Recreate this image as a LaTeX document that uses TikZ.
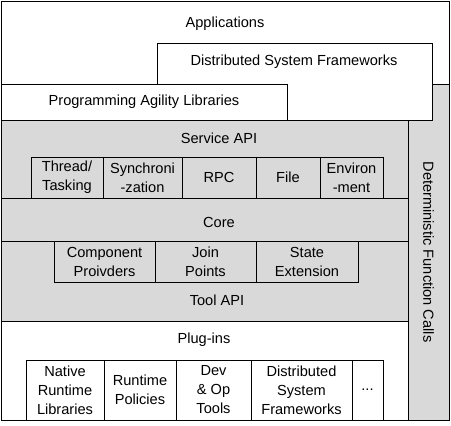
\documentclass[tikz,border=0pt]{standalone}
\usepackage{fontspec}
\setmainfont{Liberation Sans}
\definecolor{apigray}{HTML}{D9D9D9}

\begin{document}
\begin{tikzpicture}[x=1pt, y=-1pt, line width=1pt,
    every text node part/.style={align=center},
    every node/.style={font=\fontsize{14.6}{19}\selectfont},
    cell/.style={draw, inner sep=0pt}]
    \fill[white] (0,0) rectangle (451,426);

    % top layers
    \draw[fill=white] (1,1) rectangle (449,84.5);
    \node (apps) at (225,24) {Applications};

    \draw[fill=apigray] (408,84.5) rectangle (449,420);
    \node[rotate=-90] (dfc) at (428.5,252) {Deterministic Function Calls};

    \draw[fill=apigray] (1,120.5) rectangle (408,198);
    \node (sapi) at (219,138) {Service API};
    \draw[fill=apigray] (1,198) rectangle (408,241);
    \node (core) at (219,222) {Core};
    \draw[fill=apigray] (1,241) rectangle (408,321);
    \node (tapi) at (217,300) {Tool API};
    \draw[fill=white] (1,321) rectangle (408,420);
    \node (plug) at (204,340) {Plug-ins};

    \draw[fill=white] (157,43) rectangle (432,120.5);
    \node (dsf) at (294,62) {Distributed System Frameworks};
    \draw[fill=white] (1,84.5) rectangle (287,120.5);
    \node (pal) at (144,102) {Programming Agility Libraries};

    % service API parts
    \foreach \a/\b/\txt [count=\i] in {31/103/{Thread/\\Tasking}, 103/182/{Synchroni\\-zation},
        182/256/RPC, 256/320/File, 320/383/{Environ\\-ment}}
        \node[cell, minimum width=\b-\a, minimum height=41] (srv\i) at ({(\a+\b)/2},177.5) {\txt};

    % tool API parts
    \foreach \a/\b/\txt [count=\i] in {54/155/{Component\\Proivders}, 155/256/{Join\\Points},
        256/358/{State\\Extension}}
        \node[cell, minimum width=\b-\a, minimum height=41] (tool\i) at ({(\a+\b)/2},261.5) {\txt};

    % plug-ins
    \foreach \a/\b/\txt [count=\i] in {26/104/{Native\\Runtime\\Libraries}, 104/176/{Runtime\\Policies},
        176/251/{Dev\\\& Op\\Tools}, 251/352/{Distributed\\System\\Frameworks}, 352/383/{...}}
        \node[cell, minimum width=\b-\a, minimum height=60] (plg\i) at ({(\a+\b)/2},390) {\txt};
\end{tikzpicture}
\end{document}
